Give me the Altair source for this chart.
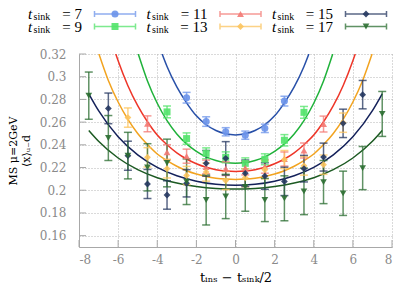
import altair as alt
import pandas as pd

# ---------------- data ----------------
t_sinks = [7, 9, 11, 13, 15, 17]
marker_colors = ["#6b93ea", "#52e36a", "#f37a74", "#fcc45e", "#24365f", "#2b6e31"]
curve_colors = ["#2850a8", "#1fb23a", "#ee3528", "#f2a31f", "#14215a", "#1c5a22"]
marker_shapes = ["circle", "square", "triangle-up", "diamond", "diamond", "triangle-down"]
marker_sizes = [50, 45, 45, 18, 32, 50]

# data points (x = t_ins - t_sink/2), central values and errors
x7 = [-2.5, -1.5, -0.5, 0.5, 1.5, 2.5]
y7 = [0.2815, 0.2605, 0.2515, 0.2485, 0.2545, 0.2785]
e7 = [0.0047, 0.0042, 0.0036, 0.0036, 0.0037, 0.0043]

x9 = [-3.5, -2.5, -1.5, -0.5, 0.5, 1.5, 2.5, 3.5]
y9 = [0.2690, 0.2455, 0.2325, 0.2290, 0.2237, 0.2273, 0.2440, 0.2686]
e9 = [0.0052, 0.0050, 0.0048, 0.0048, 0.0048, 0.0048, 0.0050, 0.0052]

x11 = [-4.5, -3.5, -2.5, -1.5, -0.5, 0.5, 1.5, 2.5, 3.5, 4.5]
y11 = [0.2585, 0.2335, 0.2300, 0.2205, 0.2190, 0.2195, 0.2210, 0.2275, 0.2350, 0.2583]
e11 = [0.0070, 0.0066, 0.0062, 0.0060, 0.0060, 0.0060, 0.0060, 0.0062, 0.0066, 0.0070]

x13 = [-5.5, -4.5, -3.5, -2.5, -1.5, -0.5, 0.5, 1.5, 2.5, 3.5, 4.5, 5.5]
y13 = [0.2640, 0.2290, 0.2190, 0.2130, 0.2160, 0.2085, 0.2110, 0.2180, 0.2270, 0.2215, 0.2225, 0.2595]
e13 = [0.0085, 0.0085, 0.0082, 0.0080, 0.0080, 0.0080, 0.0080, 0.0080, 0.0080, 0.0082, 0.0085, 0.0085]

x15 = [-6.5, -5.5, -4.5, -3.5, -2.5, -1.5, -0.5, 0.5, 1.5, 2.5, 3.5, 4.5, 5.5, 6.5]
y15 = [0.2721, 0.2304, 0.2055, 0.1958, 0.2061, 0.2237, 0.2281, 0.2149, 0.2125, 0.2078, 0.2190, 0.2292, 0.2589, 0.2842]
e15 = [0.0135, 0.0128, 0.0128, 0.0125, 0.0120, 0.0113, 0.0147, 0.0117, 0.0117, 0.0125, 0.0117, 0.0123, 0.0125, 0.0125]

x17 = [-7.5, -6.5, -5.5, -4.5, -3.5, -2.5, -1.5, -0.5, 0.5, 1.5, 2.5, 3.5, 4.5, 5.5, 6.5, 7.5]
y17 = [0.2833, 0.2460, 0.2305, 0.2202, 0.2240, 0.2075, 0.1914, 0.1945, 0.2030, 0.1914, 0.1929, 0.1990, 0.2072, 0.1973, 0.2195, 0.2672]
e17 = [0.0208, 0.0198, 0.0205, 0.0208, 0.0210, 0.0201, 0.0220, 0.0195, 0.0215, 0.0190, 0.0198, 0.0205, 0.0190, 0.0195, 0.0190, 0.0198]

# fit curves (clipped at the top of the frame)
fx7 = [-3.75, -3.5, -3, -2.5, -2, -1.5, -1, -0.5, 0, 0.5, 1, 1.5, 2, 2.5, 3, 3.5, 3.75]
fy7 = [0.32, 0.3090, 0.2910, 0.2770, 0.2655, 0.2577, 0.2526, 0.2497, 0.2487,
       0.2497, 0.2526, 0.2577, 0.2655, 0.2770, 0.2910, 0.3090, 0.32]

fx9 = [-4.97, -4.5, -4, -3.5, -3, -2.5, -2, -1.5, -1, -0.5, 0, 0.5, 1, 1.5, 2, 2.5, 3, 3.5, 4, 4.5, 4.97]
fy9 = [0.32, 0.2963, 0.2766, 0.2613, 0.2496, 0.2408, 0.2342, 0.2294, 0.2262, 0.2244, 0.2238,
       0.2244, 0.2262, 0.2294, 0.2342, 0.2408, 0.2496, 0.2613, 0.2766, 0.2963, 0.32]

fx11 = [-6.12, -6, -5.5, -5, -4.5, -4, -3.5, -3, -2.5, -2, -1.5, -1, -0.5, 0,
        0.5, 1, 1.5, 2, 2.5, 3, 3.5, 4, 4.5, 5, 5.5, 6, 6.12]
fy11 = [0.32, 0.3140, 0.2921, 0.2745, 0.2603, 0.2486, 0.2401, 0.2330, 0.2275, 0.2233, 0.2202, 0.2181, 0.2169, 0.2165,
        0.2169, 0.2181, 0.2202, 0.2233, 0.2275, 0.2330, 0.2401, 0.2486, 0.2603, 0.2745, 0.2921, 0.3140, 0.32]

fx13 = [-6.98, -6.5, -6, -5.5, -5, -4.5, -4, -3.5, -3, -2.5, -2, -1.5, -1, -0.5, 0,
        0.5, 1, 1.5, 2, 2.5, 3, 3.5, 4, 4.5, 5, 5.5, 6, 6.5, 6.98]
fy13 = [0.32, 0.2967, 0.2777, 0.2624, 0.2500, 0.2402, 0.2319, 0.2260, 0.2211, 0.2172, 0.2143, 0.2121, 0.2106, 0.2098, 0.2095,
        0.2098, 0.2106, 0.2121, 0.2143, 0.2172, 0.2211, 0.2260, 0.2319, 0.2402, 0.2500, 0.2624, 0.2777, 0.2967, 0.32]

fx15 = [-7.5, -7, -6, -5, -4, -3, -2, -1, 0, 1, 2, 3, 4, 5, 6, 7, 7.5]
fy15 = [0.2850, 0.2701, 0.2471, 0.2311, 0.2201, 0.2127, 0.2080, 0.2053, 0.2045,
        0.2053, 0.2080, 0.2127, 0.2201, 0.2311, 0.2471, 0.2701, 0.2850]

fx17 = [-7.5, -7, -6, -5, -4, -3, -2, -1, 0, 1, 2, 3, 4, 5, 6, 7, 7.5]
fy17 = [0.2526, 0.2431, 0.2284, 0.2181, 0.2110, 0.2063, 0.2032, 0.2015, 0.2010,
        0.2015, 0.2032, 0.2063, 0.2110, 0.2181, 0.2284, 0.2431, 0.2526]

# legend layout (3 columns x 2 rows)
leg_col = [0, 0, 1, 1, 2, 2]
leg_row = [0, 1, 0, 1, 0, 1]

x_ticks = [-8, -6, -4, -2, 0, 2, 4, 6, 8]
y_ticks = [0.16, 0.18, 0.20, 0.22, 0.24, 0.26, 0.28, 0.30, 0.32]

# ---------------- tables ----------------
pts = []
for t, xs_, ys_, es_ in [(7, x7, y7, e7), (9, x9, y9, e9), (11, x11, y11, e11),
                         (13, x13, y13, e13), (15, x15, y15, e15), (17, x17, y17, e17)]:
    for xv, yv, ev in zip(xs_, ys_, es_):
        pts.append({"t": t, "x": xv, "y": yv, "lo": yv - ev, "hi": yv + ev})
pts = pd.DataFrame(pts)

fits = []
for t, xs_, ys_ in [(7, fx7, fy7), (9, fx9, fy9), (11, fx11, fy11),
                    (13, fx13, fy13), (15, fx15, fy15), (17, fx17, fy17)]:
    for i, (xv, yv) in enumerate(zip(xs_, ys_)):
        fits.append({"t": t, "x": xv, "y": yv, "i": i})
fits = pd.DataFrame(fits)

leg = pd.DataFrame({"t": t_sinks, "col": leg_col, "row": leg_row,
                    "tt": ["t"] * 6, "sub": ["sink"] * 6,
                    "eq": ["= %d" % t for t in t_sinks]})

SERIF = "Liberation Serif"
AXIS_GRAY = "#a8a8a8"

xs = alt.Scale(domain=[-8, 8], nice=False)
ys = alt.Scale(domain=[0.15, 0.32], nice=False)
col_sc = alt.Scale(domain=t_sinks, range=marker_colors)
shape_sc = alt.Scale(domain=t_sinks, range=marker_shapes)
size_sc = alt.Scale(domain=t_sinks, range=marker_sizes)
curve_sc = alt.Scale(domain=t_sinks, range=curve_colors)

x_axis = alt.Axis(values=x_ticks, labelExpr="'' + datum.value", grid=True, gridDash=[1, 2],
                  gridColor="#b5b5b5", domainColor=AXIS_GRAY, ticks=False, labelOverlap=False,
                  labelFont="DejaVu Serif", labelFontSize=12, labelColor="#8a8a8a", labelPadding=7,
                  title="tᵢₙₛ − tₛᵢₙₖ/2", titleFont="DejaVu Serif", titleFontSize=13,
                  titleFontWeight="normal", titleColor="#000000", titlePadding=6)
y_axis = alt.Axis(values=y_ticks, format=".2~f", grid=True, gridDash=[1, 2],
                  gridColor="#b5b5b5", domainColor=AXIS_GRAY, ticks=False, labelOverlap=False,
                  labelFont="DejaVu Serif", labelFontSize=12, labelColor="#8a8a8a", labelPadding=13,
                  title=["M̅S̅ μ=2GeV", "⟨x⟩ᵤ₋d"], titleFont="DejaVu Serif", titleFontSize=11,
                  titleFontWeight="normal", titleColor="#000000", titlePadding=8)


def X(field):
    return alt.X(field, scale=xs, axis=x_axis)


def Y(field):
    return alt.Y(field, scale=ys, axis=y_axis)


base_pts = alt.Chart(pts)
color_enc = alt.Color("t:N", scale=col_sc, legend=None)

# inward tick marks on the left and bottom axes
yt = alt.Chart(pd.DataFrame({"v": y_ticks})).mark_rule(color=AXIS_GRAY, strokeWidth=1).encode(
    y=Y("v:Q"), x=alt.value(0), x2=alt.value(7))
xt = alt.Chart(pd.DataFrame({"v": x_ticks})).mark_rule(color=AXIS_GRAY, strokeWidth=1).encode(
    x=X("v:Q"), y=alt.value(193), y2=alt.value(186))

bars = base_pts.mark_rule(strokeWidth=1.5, opacity=0.75).encode(
    x=X("x:Q"), y=Y("lo:Q"), y2="hi:Q", color=color_enc)
cap_lo = base_pts.mark_tick(orient="horizontal", size=8, thickness=1.5, opacity=0.75).encode(
    x=X("x:Q"), y=Y("lo:Q"), color=color_enc)
cap_hi = base_pts.mark_tick(orient="horizontal", size=8, thickness=1.5, opacity=0.75).encode(
    x=X("x:Q"), y=Y("hi:Q"), color=color_enc)
marks = base_pts.mark_point(filled=True, opacity=0.9).encode(
    x=X("x:Q"), y=Y("y:Q"),
    color=color_enc,
    shape=alt.Shape("t:N", scale=shape_sc, legend=None),
    size=alt.Size("t:N", scale=size_sc, legend=None),
)
curves = alt.Chart(fits).mark_line(strokeWidth=1.5, interpolate="monotone", clip=True).encode(
    x=X("x:Q"), y=Y("y:Q"),
    order="i:Q",
    stroke=alt.Stroke("t:N", scale=curve_sc, legend=None),
    detail="t:N",
)

main = alt.layer(yt, xt, curves, bars, cap_lo, cap_hi, marks)

# ---------------- legend drawn as its own layer ----------------
lx = alt.X("col:Q", scale=alt.Scale(domain=[0, 2], range=[36, 287]), axis=None)
ly = alt.Y("row:Q", scale=alt.Scale(domain=[0, 1], range=[-40, -27.5]), axis=None)
lbase = alt.Chart(leg)
ERRSYM = "M-1,0H1M-1,-0.15V0.15M1,-0.15V0.15"
leg_bar = lbase.mark_point(shape=ERRSYM, size=1681, filled=False, strokeWidth=1.5, opacity=0.75).encode(
    x=lx, y=ly, color=color_enc)
leg_mark = lbase.mark_point(filled=True, opacity=0.9).encode(
    x=lx, y=ly, color=color_enc,
    shape=alt.Shape("t:N", scale=shape_sc, legend=None),
    size=alt.Size("t:N", scale=size_sc, legend=None))
leg_t1 = lbase.transform_filter("datum.t < 10").mark_text(
    font=SERIF, fontSize=15, fontStyle="italic", align="left", baseline="middle", dx=-87, color="#000000"
).encode(x=lx, y=ly, text="tt:N")
leg_t2 = lbase.transform_filter("datum.t >= 10").mark_text(
    font=SERIF, fontSize=15, fontStyle="italic", align="left", baseline="middle", dx=-94, color="#000000"
).encode(x=lx, y=ly, text="tt:N")
leg_s1 = lbase.transform_filter("datum.t < 10").mark_text(
    font=SERIF, fontSize=10, align="left", baseline="middle", dx=-81.5, dy=3, color="#000000"
).encode(x=lx, y=ly, text="sub:N")
leg_s2 = lbase.transform_filter("datum.t >= 10").mark_text(
    font=SERIF, fontSize=10, align="left", baseline="middle", dx=-88.5, dy=3, color="#000000"
).encode(x=lx, y=ly, text="sub:N")
leg_eq = lbase.mark_text(font=SERIF, fontSize=15, align="right", baseline="middle", dx=-33,
                         color="#000000").encode(x=lx, y=ly, text="eq:N")
legend = alt.layer(leg_bar, leg_mark, leg_t1, leg_t2, leg_s1, leg_s2, leg_eq)

chart = alt.layer(main, legend).resolve_scale(x="independent", y="independent").properties(
    width=313, height=193,
    autosize=alt.AutoSizeParams(type="none"),
    padding={"left": 71, "top": 46, "right": 16, "bottom": 40},
).configure_view(strokeWidth=0)

chart.save("out.html", embed_options={"renderer": "svg", "actions": False})
